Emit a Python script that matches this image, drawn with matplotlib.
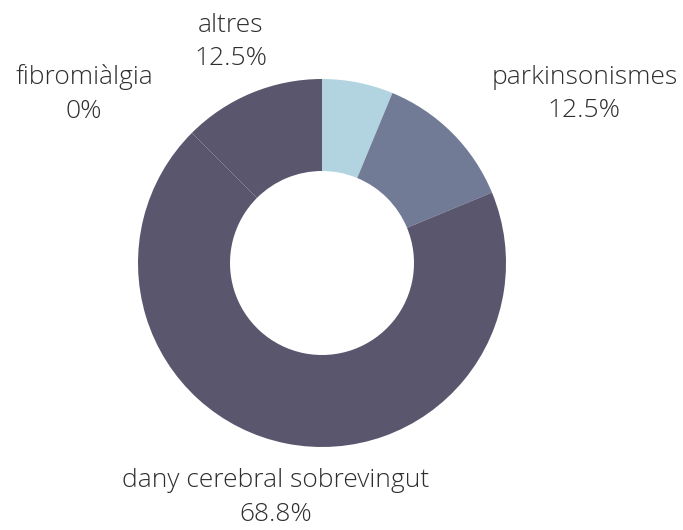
import numpy as np
import matplotlib.pyplot as plt

labels = ['', 'parkinsonismes', 'dany cerebral sobrevingut', 'fibromiàlgia', 'altres']
values = [6.25, 12.5, 68.75, 0.0, 12.5]
pct_labels = ['', '12.5%', '68.8%', '0%', '12.5%']
colors = ['#b1d4e0', '#717b96', '#5a566e', '#5a566e', '#5a566e']

W, H = 683, 530
cx, cy, R = 322, 263, 184  # centre and radius in pixels

fig = plt.figure(figsize=(W / 100, H / 100), dpi=100)
ax = fig.add_axes([0, 0, 1, 1])

wedges, _ = ax.pie(values, colors=colors, startangle=90, counterclock=False,
                   radius=1, wedgeprops=dict(width=0.5, linewidth=0))

# pie() resets limits, so set them afterwards
ax.set_xlim(-cx / R, (W - cx) / R)
ax.set_ylim(-(H - cy) / R, cy / R)
ax.set_aspect('equal')
ax.axis('off')

# labels at 1.3 radius from centre, on each slice's midpoint
start = 0.0
total = sum(values)
for lab, pct, v in zip(labels, pct_labels, values):
    mid = start + v / 2
    start += v
    if not lab:
        continue
    ang = np.deg2rad(90 - 360 * mid / total)
    x, y = 1.3 * np.cos(ang), 1.3 * np.sin(ang)
    if abs(x) < 0.6:
        ha = 'center'
    elif x > 0:
        ha = 'left'
    else:
        ha = 'right'
    ax.text(x, y, f'{lab}\n{pct}', ha=ha, va='center', multialignment='center',
            fontsize=19, family='Open Sans', fontweight='light', color='#2e2e2e',
            linespacing=1.45)

fig.savefig('out.png', dpi=100)
